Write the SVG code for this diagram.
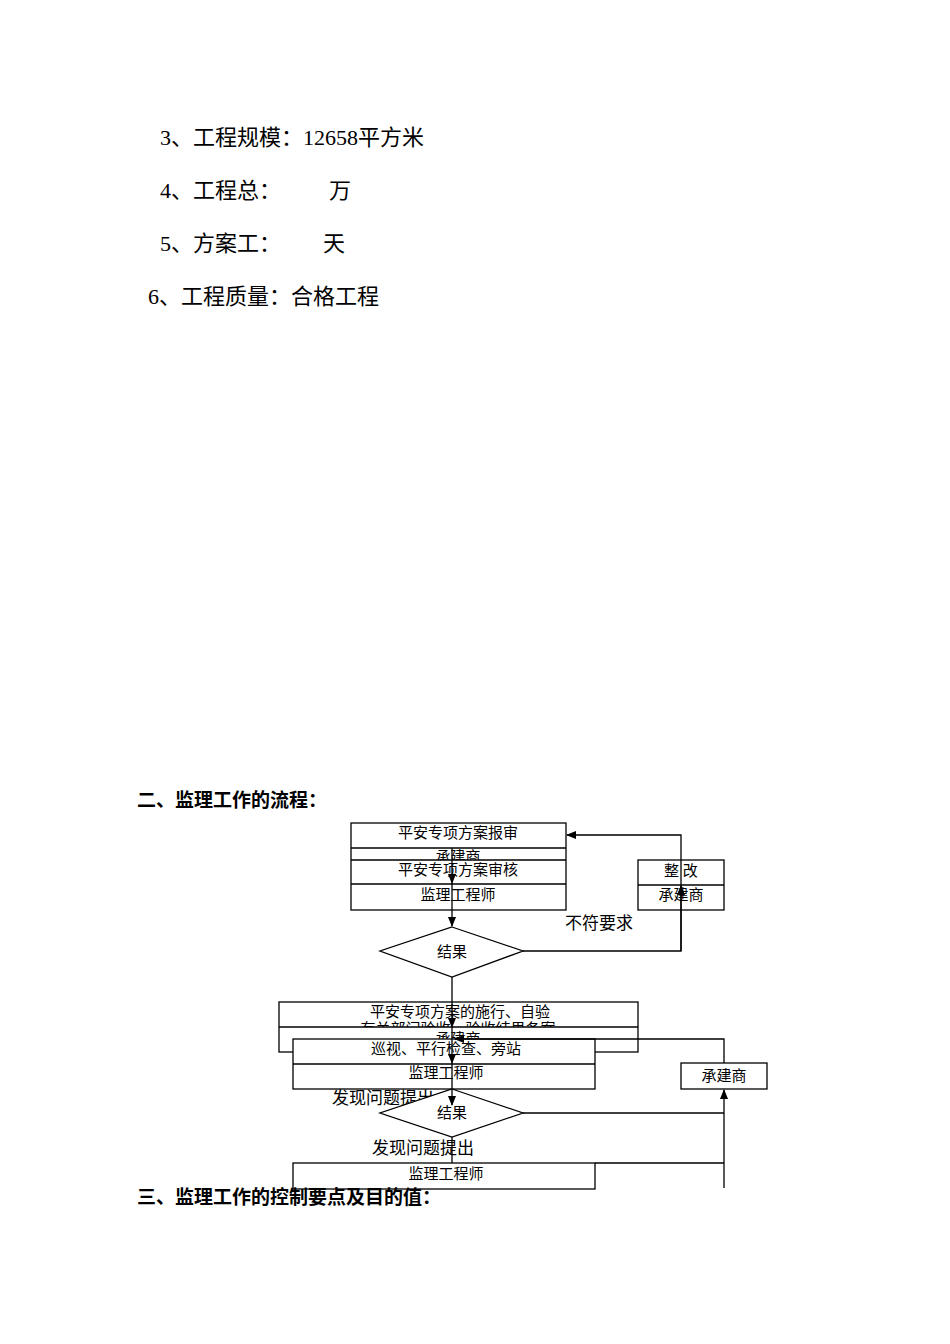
<svg xmlns="http://www.w3.org/2000/svg" width="950" height="1344" viewBox="0 0 950 1344">
<style>
.t{font-family:"Liberation Serif","Noto Sans CJK SC",serif;fill:#000}
.b{font-size:22px}
.h{font-size:19px;font-weight:bold;font-family:"Liberation Sans","Noto Sans CJK SC",sans-serif}
.s{font-size:15px}
.n{fill:#fff;stroke:#000;stroke-width:1.3}
.l{fill:none;stroke:#000;stroke-width:1.3}
</style>
<defs><marker id="a" markerWidth="10" markerHeight="10" refX="9" refY="5" orient="auto" markerUnits="userSpaceOnUse"><path d="M0,1 L10,5 L0,9Z" fill="#000"/></marker>
<clipPath id="c1"><rect x="351" y="848" width="215" height="12"/></clipPath>
<clipPath id="c2"><rect x="279" y="1002" width="359" height="25"/></clipPath>
<clipPath id="c3"><rect x="279" y="1027" width="359" height="12"/></clipPath>
</defs>
<rect width="950" height="1344" fill="#fff"/>
<text class="t b" x="160" y="145">3、工程规模：12658平方米</text>
<text class="t b" x="160" y="198">4、工程总：</text><text class="t b" x="329" y="198">万</text>
<text class="t b" x="160" y="251">5、方案工：</text><text class="t b" x="323" y="251">天</text>
<text class="t b" x="148" y="304">6、工程质量：合格工程</text>
<text class="t h" x="137" y="807">二、监理工作的流程：</text>
<g id="n1"><rect class="n" x="351" y="823" width="215" height="87"/><path class="l" d="M351,848H566M351,860H566M351,884H566"/>
<text class="t s" x="458" y="838" text-anchor="middle">平安专项方案报审</text>
<text class="t s" x="458" y="862" text-anchor="middle" clip-path="url(#c1)">承建商</text>
<text class="t s" x="458" y="875" text-anchor="middle">平安专项方案审核</text>
<text class="t s" x="458" y="900" text-anchor="middle">监理工程师</text></g>
<g id="n2"><rect class="n" x="638" y="860" width="86" height="50"/><path class="l" d="M638,885H724"/>
<text class="t s" x="681" y="876" text-anchor="middle">整  改</text>
<text class="t s" x="681" y="900" text-anchor="middle">承建商</text></g>
<text class="t" style="font-size:17px" x="565" y="929">不符要求</text>
<g id="n3"><polygon class="n" points="452,927 523,951 452,977 380,951"/><text class="t s" x="452" y="957" text-anchor="middle">结果</text></g>
<g id="n4"><rect class="n" x="279" y="1002" width="359" height="50"/><path class="l" d="M279,1027H638"/>
<text class="t s" x="460" y="1017" text-anchor="middle">平安专项方案的施行、自验</text>
<text class="t s" x="458" y="1034" text-anchor="middle" clip-path="url(#c2)">有关部门验收、验收结果备案</text>
<text class="t s" x="458" y="1044" text-anchor="middle" clip-path="url(#c3)">承建商</text></g>
<g id="n5"><rect class="n" x="293" y="1039" width="302" height="50"/><path class="l" d="M293,1064H595"/>
<text class="t s" x="446" y="1054" text-anchor="middle">巡视、平行检查、旁站</text>
<text class="t s" x="446" y="1078" text-anchor="middle">监理工程师</text></g>
<g id="n6"><rect class="n" x="681" y="1063" width="86" height="26"/><text class="t s" x="724" y="1081" text-anchor="middle">承建商</text></g>
<text class="t" style="font-size:17px" x="332" y="1104">发现问题提出</text>
<g id="n7"><polygon class="n" points="452,1089 523,1113 452,1137 380,1113"/><text class="t s" x="452" y="1118" text-anchor="middle">结果</text></g>
<text class="t" style="font-size:17px" x="372" y="1154">发现问题提出</text>
<g id="n8"><rect class="n" x="293" y="1163" width="302" height="26"/><text class="t s" x="446" y="1179" text-anchor="middle">监理工程师</text></g>
<g id="connectors">
<path class="l" d="M452,848V883" marker-end="url(#a)"/>
<path class="l" d="M452,883V926" marker-end="url(#a)"/>
<path class="l" d="M523,951H681V835H567" marker-end="url(#a)"/>
<path class="l" d="M681,951V886" marker-end="url(#a)"/>
<path class="l" d="M452,977V1027" marker-end="url(#a)"/>
<path class="l" d="M452,1027V1063" marker-end="url(#a)"/>
<path class="l" d="M724,1063V1039H455" marker-end="url(#a)"/>
<path class="l" d="M452,1063V1105" marker-end="url(#a)"/>
<path class="l" d="M523,1113H724"/>
<path class="l" d="M724,1188V1090" marker-end="url(#a)"/>
<path class="l" d="M452,1137V1163M595,1163H724"/>
</g>
<text class="t h" x="137" y="1204">三、监理工作的控制要点及目的值：</text>
</svg>
